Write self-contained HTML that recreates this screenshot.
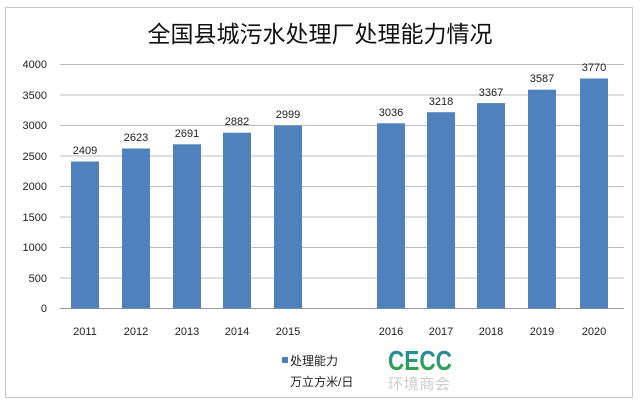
<!DOCTYPE html>
<html><head><meta charset="utf-8"><style>
body{margin:0;background:#fff;}
text{font-family:"Liberation Sans","Noto Sans CJK SC",sans-serif;}
</style></head><body>
<svg width="640" height="404" xmlns="http://www.w3.org/2000/svg">
<rect x="0" y="0" width="640" height="404" fill="#fff"/>
<rect x="5.5" y="7.5" width="627" height="390" fill="#fff" stroke="#c8c8c8"/>
<text x="320" y="42" text-anchor="middle" font-size="23" fill="#111">全国县城污水处理厂处理能力情况</text>
<g stroke="#bdbdbd" stroke-width="1">
<line x1="60" x2="624" y1="64.5" y2="64.5"/>
<line x1="60" x2="624" y1="95" y2="95"/>
<line x1="60" x2="624" y1="125.5" y2="125.5"/>
<line x1="60" x2="624" y1="156" y2="156"/>
<line x1="60" x2="624" y1="186.5" y2="186.5"/>
<line x1="60" x2="624" y1="217" y2="217"/>
<line x1="60" x2="624" y1="247.5" y2="247.5"/>
<line x1="60" x2="624" y1="278" y2="278"/>
<line x1="60" x2="624" y1="308.5" y2="308.5" stroke="#999"/>
</g>
<g font-size="11" fill="#222" text-anchor="end">
<text x="47" y="68">4000</text><text x="47" y="99">3500</text><text x="47" y="129">3000</text>
<text x="47" y="160">2500</text><text x="47" y="190">2000</text><text x="47" y="221">1500</text>
<text x="47" y="251">1000</text><text x="47" y="282">500</text><text x="47" y="312">0</text>
</g>
<g fill="#4f81bd">
<rect x="71" y="161.5" width="28" height="147"/>
<rect x="122" y="148.5" width="28" height="160"/>
<rect x="173" y="144.3" width="28" height="164.2"/>
<rect x="223" y="132.7" width="28" height="175.8"/>
<rect x="274" y="125.5" width="28" height="183"/>
<rect x="377" y="123.3" width="28" height="185.2"/>
<rect x="427" y="112.2" width="28" height="196.3"/>
<rect x="477" y="103.1" width="28" height="205.4"/>
<rect x="528" y="89.7" width="28" height="218.8"/>
<rect x="580" y="78.5" width="28" height="230"/>
</g>
<g font-size="11" fill="#222" text-anchor="middle">
<text x="85" y="154">2409</text><text x="136" y="141">2623</text><text x="187" y="137">2691</text>
<text x="237" y="125">2882</text><text x="288" y="118">2999</text><text x="391" y="116">3036</text>
<text x="441" y="105">3218</text><text x="491" y="96">3367</text><text x="542" y="82">3587</text>
<text x="594" y="71">3770</text>
</g>
<g font-size="11" fill="#222" text-anchor="middle">
<text x="85" y="335">2011</text><text x="136" y="335">2012</text><text x="187" y="335">2013</text>
<text x="237" y="335">2014</text><text x="288" y="335">2015</text><text x="391" y="335">2016</text>
<text x="441" y="335">2017</text><text x="491" y="335">2018</text><text x="542" y="335">2019</text>
<text x="594" y="335">2020</text>
</g>
<rect x="282" y="357" width="6" height="6" fill="#4f81bd"/>
<text x="290" y="365" font-size="12" fill="#222">处理能力</text>
<text x="290" y="386" font-size="12" fill="#222">万立方米/日</text>
<defs><linearGradient id="g" x1="0" y1="0" x2="0" y2="1"><stop offset="0" stop-color="#2a7fc0"/><stop offset="0.55" stop-color="#2a9a6a"/><stop offset="1" stop-color="#3aaa3a"/></linearGradient></defs>
<text x="388" y="370" font-size="28" font-weight="bold" fill="url(#g)" textLength="64" lengthAdjust="spacingAndGlyphs">CECC</text>
<text x="388" y="389" font-size="15" fill="#ccc" textLength="62">环境商会</text>
</svg>
</body></html>
